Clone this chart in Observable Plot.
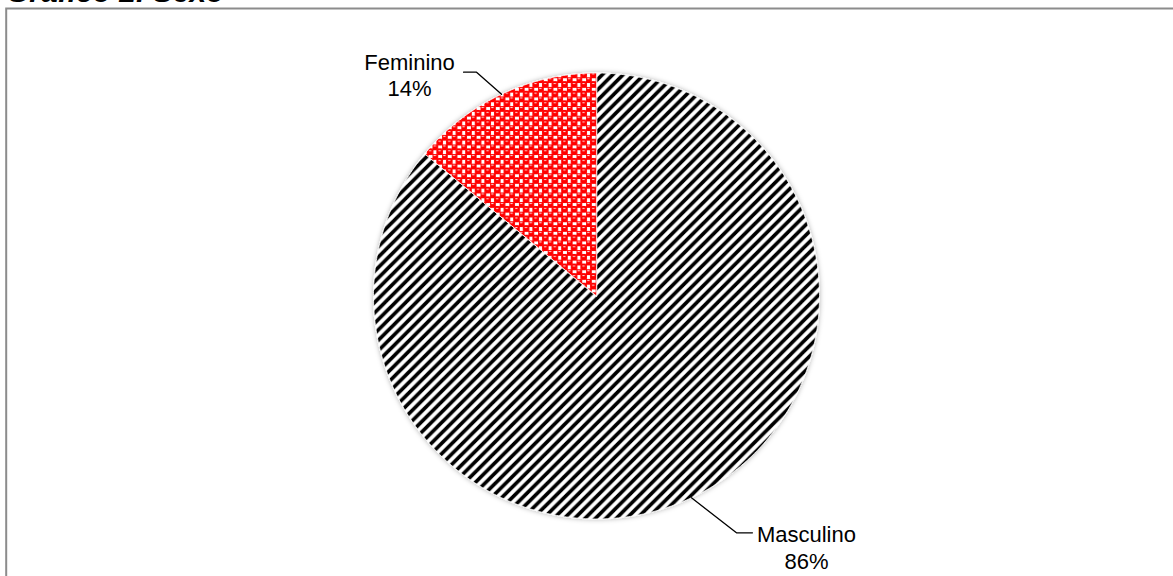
<!DOCTYPE html>
<html><head><meta charset="utf-8">
<script src="https://cdn.jsdelivr.net/npm/d3@7"></script>
<script src="https://cdn.jsdelivr.net/npm/@observablehq/plot@0.6"></script>
<style>
html,body{margin:0;padding:0;background:#fff;overflow:hidden}
#wrap{position:relative;width:1173px;height:576px}
#title{position:absolute;left:6px;top:-21px;font:italic bold 30px 'Liberation Sans',Arial,sans-serif;line-height:26px;color:#000;white-space:nowrap;z-index:2}
</style></head><body><div id="wrap"><div id="title">Gráfico 2. Sexo</div></div>
<script>
// Data
const categories = ["Masculino", "Feminino"];
const values = [86, 14];
const percentLabels = ["86%", "14%"];
const patterns = ["url(#stripes)", "url(#checker)"];

// Layout (pixels)
const W = 1173, H = 576;
const cx = 596, cy = 295.5, r = 223;
const leaderOffsets = {Masculino: [[45, 35], [61, 35]], Feminino: [[-25, -22], [-38, -22]]};
const textOffsets = {Masculino: [115, 71], Feminino: [-92, 2]};

const data = categories.map((c, i) => ({cat: c, value: values[i], pct: percentLabels[i], pattern: patterns[i]}));
const arcs = d3.pie().sort(null).value(d => d.value)(data);

const slicePts = arcs.flatMap(a => {
  const d = a.data;
  const n = Math.max(2, Math.ceil((a.endAngle - a.startAngle) / (Math.PI / 360)));
  const pts = [{cat: d.cat, pattern: d.pattern, x: 0, y: 0}];
  for (let i = 0; i <= n; i++) {
    const ang = a.startAngle + (a.endAngle - a.startAngle) * i / n;
    pts.push({cat: d.cat, pattern: d.pattern, x: Math.sin(ang), y: Math.cos(ang)});
  }
  return pts;
});

const leaderPts = arcs.flatMap(a => {
  const d = a.data, mid = (a.startAngle + a.endAngle) / 2;
  const ax = Math.sin(mid), ay = Math.cos(mid);
  return [{cat: d.cat, x: ax, y: ay}].concat(leaderOffsets[d.cat].map(([ox, oy]) => ({cat: d.cat, x: ax + ox / r, y: ay - oy / r})));
});

const labels = arcs.map(a => {
  const d = a.data, mid = (a.startAngle + a.endAngle) / 2;
  const [ox, oy] = textOffsets[d.cat];
  return {text: d.cat + "\n" + d.pct, x: Math.sin(mid) + ox / r, y: Math.cos(mid) - oy / r};
});

const svg = Plot.plot({
  width: W, height: H,
  margin: 0,
  style: {background: "#fff", fontFamily: "'Liberation Sans', Arial, sans-serif"},
  x: {domain: [-1, 1], range: [cx - r, cx + r], axis: null},
  y: {domain: [-1, 1], range: [cy + r, cy - r], axis: null},
  fill: {type: "identity"},
  marks: [
    Plot.frame({stroke: "#8c8c8c", strokeWidth: 2, insetLeft: 5.7, insetTop: 8, insetRight: -10, insetBottom: -10}),
    Plot.line(slicePts, {x: "x", y: "y", z: "cat", fill: "pattern", stroke: "#fff", strokeWidth: 0.8, curve: "linear-closed"}),
    Plot.line(leaderPts, {x: "x", y: "y", z: "cat", stroke: "#000", strokeWidth: 1.3}),
    Plot.text(labels, {x: "x", y: "y", text: "text", textAnchor: "middle", lineAnchor: "bottom", lineHeight: 1.2, fontSize: 22, fill: "#000"})
  ]
});

const defs = d3.select(svg).insert("defs", ":first-child");
defs.html(`
  <pattern id="stripes" patternUnits="userSpaceOnUse" width="10.4" height="10.4">
    <rect width="10.4" height="10.4" fill="#fff"/>
    <path d="M-2.6,2.6 l5.2,-5.2 M0,10.4 l10.4,-10.4 M7.8,13 l5.2,-5.2" stroke="#000" stroke-width="3.6"/>
  </pattern>
  <pattern id="checker" patternUnits="userSpaceOnUse" width="9.6" height="9.6">
    <rect width="9.6" height="9.6" fill="#fff"/>
    <rect x="-0.9" y="-0.9" width="6.6" height="6.6" rx="2.2" fill="#ff0000"/>
    <rect x="3.9" y="3.9" width="6.6" height="6.6" rx="2.2" fill="#ff0000"/>
    <rect x="-5.7" y="3.9" width="6.6" height="6.6" rx="2.2" fill="#ff0000"/>
    <rect x="3.9" y="-5.7" width="6.6" height="6.6" rx="2.2" fill="#ff0000"/>
    <rect x="1.2" y="1.0" width="2.2" height="1" fill="#fff" opacity="0.9"/>
    <rect x="6.0" y="5.8" width="2.2" height="1" fill="#fff" opacity="0.9"/>
  </pattern>
  <filter id="shadow" x="-10%" y="-10%" width="120%" height="120%">
    <feDropShadow dx="0" dy="0" stdDeviation="2.5" flood-color="#000" flood-opacity="0.3"/>
  </filter>`);
const slicePath = Array.from(svg.querySelectorAll("path")).find(p => (p.getAttribute("fill") || "").startsWith("url("));
if (slicePath && slicePath.parentNode) slicePath.parentNode.setAttribute("filter", "url(#shadow)");

document.getElementById("wrap").appendChild(svg);
</script></body></html>
